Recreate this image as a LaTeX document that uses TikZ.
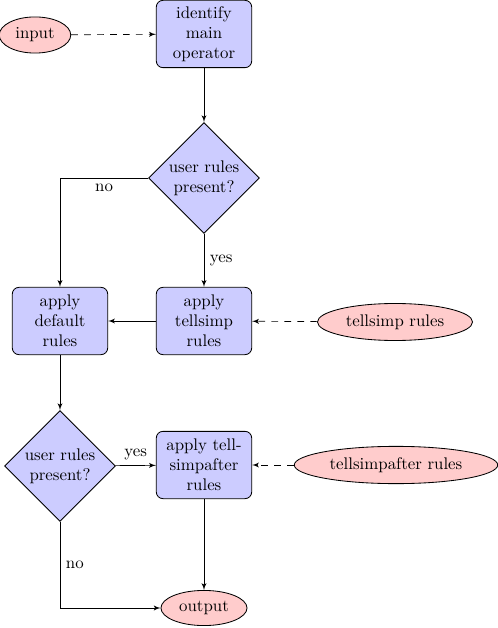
\documentclass[tikz,border=0pt]{standalone}
\usetikzlibrary{shapes.geometric,arrows}
\begin{document}
\begin{tikzpicture}[x=0.594pt,y=-0.594pt,
  decision/.style={diamond, draw, line width=0.5pt, fill=blue!20, text width=4.5em, align=flush center, inner sep=0pt},
  block/.style={rectangle, draw, line width=0.5pt, fill=blue!20, text width=5em, align=center, rounded corners, minimum height=4em},
  line/.style={draw, -latex'},
  dline/.style={draw, -latex', dash pattern=on 4pt off 3.7pt},
  cloud/.style={draw, line width=0.5pt, ellipse, fill=red!20, minimum height=2em},
  lbl/.style={font=\normalsize}]
\useasboundingbox (0,0) rectangle (498,628);
\node[cloud] (input) at (35,35) {input};
\node[block] (identify) at (204,34) {identify main operator};
\node[decision] (decide) at (204,178) {user rules present?};
\node[block] (default) at (60,321) {apply default rules};
\node[block] (tellsimp) at (204,321) {apply tellsimp rules};
\node[cloud] (tsrules) at (395,322) {tellsimp rules};
\node[decision] (decide2) at (60,466) {user rules present?};
\node[block] (tsafter) at (204,465) {apply tell\-simpafter rules};
\node[cloud] (tsarules) at (396,465) {tellsimpafter rules};
\node[cloud] (output) at (204,608) {output};
\path[dline] (input) -- (identify);
\path[line] (identify) -- (decide);
\path[line] (decide) -| node[near start, below, lbl] {no} (default);
\path[line] (decide) -- node[midway, right, lbl] {yes} (tellsimp);
\path[line] (tellsimp) -- (default);
\path[dline] (tsrules) -- (tellsimp);
\path[line] (default) -- (decide2);
\path[line] (decide2) -- node[midway, above, lbl] {yes} (tsafter);
\path[dline] (tsarules) -- (tsafter);
\path[line] (tsafter) -- (output);
\path[line] (decide2) |- node[near start, right, lbl] {no} (output);
\end{tikzpicture}
\end{document}
